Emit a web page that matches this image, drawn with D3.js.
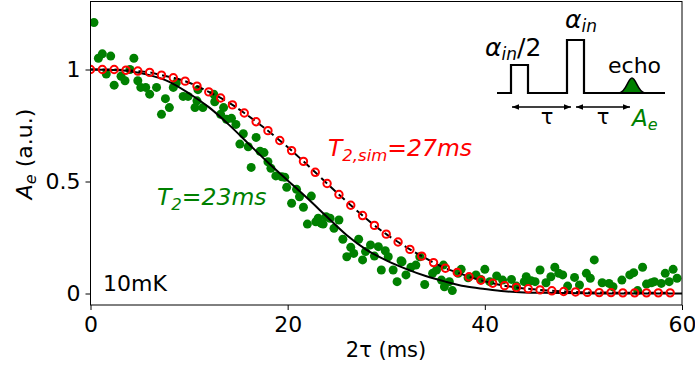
<!DOCTYPE html>
<html><head><meta charset="utf-8">
<script src="https://cdn.jsdelivr.net/npm/d3@7"></script>
<style>
body{margin:0;background:#fff}
svg{display:block}
text{font-family:"DejaVu Sans",sans-serif}
</style>
</head><body>
<svg id="c" width="695" height="374"></svg>
<script>
// ---------- data ----------
const xTicks = [0, 20, 40, 60];
const yTicks = [0, 0.5, 1];
const xDomain = [0, 60];
const yDomain = [-0.0513, 1.3036];

// measured echo amplitude (green dots)
const measTime = [0.35,0.8,1.2,1.6,2.05,2.4,3.1,3.5,4.0,4.4,4.8,5.1,5.6,6.0,6.7,7.2,7.6,8.0,8.4,8.7,9.4,9.9,10.6,10.8,10.9,11.4,
  12.5,12.6,13.2,13.5,13.8,14.3,14.75,15.15,15.5,16.0,16.3,16.8,17.2,17.6,18.0,18.3,18.8,19.4,19.7,19.9,20.4,20.9,21.2,21.6,
  22.0,22.4,22.85,23.1,23.4,23.6,23.9,24.3,24.7,25.2,25.6,26.0,26.4,26.7,27.2,27.6,27.9,28.4,28.8,29.2,29.5,29.9,30.2,30.7,
  31.1,31.5,31.6,32.0,32.5,33.0,33.4,33.9,34.7,35.1,35.6,35.8,35.9,36.4,36.7,37.3,37.6,38.3,39.1,39.6,40.0,40.5,41.2,41.8,42.7,
  43.2,44.0,44.2,44.7,45.1,45.6,46.2,46.7,47.1,47.5,47.9,48.4,49.1,49.6,50.3,50.7,51.1,51.9,52.6,53.0,53.9,54.7,55.1,55.5,
  56.0,56.4,56.9,57.2,57.9,58.3,58.7,59.1,59.5];
const measAmp = [1.21,1.05,1.07,0.98,1.06,0.93,0.97,0.95,1.0,1.05,0.95,0.92,0.92,0.89,0.92,0.80,0.87,0.83,0.92,0.94,0.88,0.88,0.83,0.86,0.91,0.83,
  0.89,0.856,0.80,0.83,0.778,0.782,0.755,0.667,0.713,0.655,0.563,0.697,0.635,0.629,0.588,0.559,0.525,0.521,0.519,0.474,0.403,0.465,0.432,0.385,
  0.31,0.435,0.32,0.336,0.313,0.31,0.343,0.336,0.291,0.328,0.242,0.164,0.206,0.179,0.242,0.15,0.187,0.217,0.167,0.209,0.105,0.191,0.164,0.105,
  0.053,0.146,0.142,0.083,0.117,0.127,0.164,0.04,0.09,0.105,0.06,0.127,0.03,0.053,0.013,0.09,0.108,0.07,0.083,0.063,0.108,0.053,0.078,0.06,0.063,
  0.033,0.053,0.075,0.057,0.053,0.105,0.048,0.075,0.117,0.09,0.083,0.033,0.072,0.038,0.09,0.068,0.15,0.048,0.045,0.03,0.06,0.083,0.093,0.013,
  0.117,0.042,0.048,0.053,0.045,0.09,0.053,0.108,0.068];

// simulated echo amplitude (red open circles)
const simTime = [0,1.2,2.4,3.6,4.8,6.0,7.2,8.4,9.6,10.8,12.0,13.2,14.4,15.6,16.8,18.0,19.2,20.4,21.6,22.8,
  24.0,25.2,26.4,27.6,28.8,30.0,31.2,32.4,33.6,34.8,36.0,37.2,38.4,39.6,40.8,42.0,43.2,44.4,45.6,46.8,
  48.0,49.2,50.4,51.6,52.8,54.0,55.2,56.4,57.6,58.8];
const simAmp = [1.0,1.0,1.0,0.997,0.993,0.987,0.975,0.963,0.948,0.926,0.900,0.873,0.842,0.806,0.767,0.727,0.683,0.638,0.590,0.541,
  0.491,0.442,0.394,0.348,0.304,0.265,0.230,0.197,0.167,0.138,0.113,0.094,0.075,0.059,0.046,0.035,0.027,0.021,0.016,0.012,
  0.009,0.007,0.005,0.004,0.004,0.003,0.003,0.003,0.003,0.003];

// fit to measured data (black solid line, T2 = 23 ms)
const fitTime = [0,2,4,6,8,10,12,14,16,18,20,22,24,26,28,30,32,34,36,38,40,42,44,46,48,50,55,60];
const fitAmp  = [1.0,0.998,0.992,0.975,0.945,0.893,0.832,0.755,0.67,0.585,0.505,0.425,0.342,0.26,0.195,0.148,0.11,0.078,0.053,0.032,0.02,0.01,0.005,0.003,0.002,0.001,0,0];

// ---------- layout ----------
const svg = d3.select("#c");
const x = d3.scaleLinear().domain(xDomain).range([90.5, 682]);
const y = d3.scaleLinear().domain(yDomain).range([305, 1.5]);

const defs = svg.append("defs");
defs.append("clipPath").attr("id","clip")
  .append("rect").attr("x",90.5).attr("y",1.5).attr("width",591.5).attr("height",303.5);

const plot = svg.append("g").attr("clip-path","url(#clip)");

// green measured points
plot.append("g").selectAll("circle").data(measTime).join("circle")
  .attr("cx", d => x(d)).attr("cy", (d,i) => y(measAmp[i])).attr("r", 4.5)
  .attr("fill", "#008000");

// black solid fit
const fitPts = fitTime.map((t,i) => [t, fitAmp[i]]);
plot.append("path").datum(fitPts)
  .attr("d", d3.line().x(d => x(d[0])).y(d => y(d[1])).curve(d3.curveMonotoneX))
  .attr("fill","none").attr("stroke","#000").attr("stroke-width",2);

// black dashed fit of simulation
const simPts = simTime.map((t,i) => [t, simAmp[i]]);
plot.append("path").datum(simPts)
  .attr("d", d3.line().x(d => x(d[0])).y(d => y(d[1])).curve(d3.curveMonotoneX))
  .attr("fill","none").attr("stroke","#000").attr("stroke-width",2).attr("stroke-dasharray","8,4");

// red open circles
plot.append("g").selectAll("circle").data(simPts).join("circle")
  .attr("cx", d => x(d[0])).attr("cy", d => y(d[1])).attr("r", 3.7)
  .attr("fill", "none").attr("stroke", "#ff0000").attr("stroke-width", 2);

// frame
svg.append("rect").attr("x",90.5).attr("y",1.5).attr("width",591.5).attr("height",303.5)
  .attr("fill","none").attr("stroke","#000").attr("stroke-width",1);

// axes
const xa = svg.append("g").attr("transform","translate(0,305)")
  .call(d3.axisBottom(x).tickValues(xTicks).tickSize(5).tickPadding(6).tickFormat(d => String(d)));
const ya = svg.append("g").attr("transform","translate(90.5,0)")
  .call(d3.axisLeft(y).tickValues(yTicks).tickSize(5).tickPadding(5).tickFormat(d => String(d)));
[xa, ya].forEach(a => {
  a.select(".domain").remove();
  a.selectAll("line").attr("stroke","#000").attr("stroke-width",1);
  a.selectAll("text").attr("font-size","22px").attr("fill","#000").attr("font-family","DejaVu Sans");
});

// axis labels
svg.append("text").attr("x",386).attr("y",357).attr("text-anchor","middle")
  .attr("font-size","21px").text("2τ (ms)");
const yl = svg.append("text").attr("transform","translate(32,154) rotate(-90)")
  .attr("text-anchor","middle").attr("font-size","22px");
yl.append("tspan").attr("font-style","italic").text("A");
yl.append("tspan").attr("font-style","italic").attr("font-size","16px").attr("dy",4).text("e");
yl.append("tspan").attr("dy",-4).text(" (a.u.)");

// annotations
svg.append("text").attr("x",103).attr("y",291).attr("font-size","22px").text("10mK");

const t1 = svg.append("text").attr("x",157).attr("y",205).attr("font-size","23.5px")
  .attr("font-style","italic").attr("fill","#008000");
t1.append("tspan").text("T");
t1.append("tspan").attr("font-size","16.5px").attr("dy",5).text("2");
t1.append("tspan").attr("dy",-5).text("=23ms");

const t2 = svg.append("text").attr("x",328).attr("y",156).attr("font-size","23.5px")
  .attr("font-style","italic").attr("fill","#ff0000");
t2.append("tspan").text("T");
t2.append("tspan").attr("font-size","16.5px").attr("dy",5).text("2,sim");
t2.append("tspan").attr("dy",-5).text("=27ms");

// ---------- inset pulse-sequence schematic ----------
const ins = svg.append("g");
const base = 93;
const seq = d3.path();
seq.moveTo(497, base); seq.lineTo(511, base); seq.lineTo(511, 65); seq.lineTo(528, 65); seq.lineTo(528, base);
seq.lineTo(567, base); seq.lineTo(567, 40); seq.lineTo(584, 40); seq.lineTo(584, base); seq.lineTo(620, base);
ins.append("path").attr("d", seq.toString()).attr("fill","none").attr("stroke","#000").attr("stroke-width",2.2)
  .attr("stroke-linejoin","miter");
const echo = d3.path();
echo.moveTo(619, base);
echo.bezierCurveTo(626, base, 628, 78, 632, 78);
echo.bezierCurveTo(636, 78, 638, base, 645, base);
ins.append("path").attr("d", echo.toString() + "Z").attr("fill","#008000").attr("stroke","none");
ins.append("path").attr("d", echo.toString()).attr("fill","none").attr("stroke","#000").attr("stroke-width",1.5);
ins.append("line").attr("x1",619).attr("x2",665).attr("y1",base).attr("y2",base).attr("stroke","#000").attr("stroke-width",2.2);

defs.append("marker").attr("id","ah").attr("viewBox","0 0 10 10").attr("refX",10).attr("refY",5)
  .attr("markerWidth",7).attr("markerHeight",7).attr("orient","auto-start-reverse").attr("markerUnits","userSpaceOnUse")
  .append("path").attr("d","M0,1 L10,5 L0,9 Z").attr("fill","#000");
[[512,571],[576,630]].forEach(([a,b]) => {
  ins.append("line").attr("x1",a).attr("x2",b).attr("y1",107).attr("y2",107)
    .attr("stroke","#000").attr("stroke-width",1.5)
    .attr("marker-start","url(#ah)").attr("marker-end","url(#ah)");
});
ins.append("text").attr("x",547).attr("y",124).attr("text-anchor","middle").attr("font-size","21px").attr("font-family","DejaVu Serif").text("τ");
ins.append("text").attr("x",603).attr("y",124).attr("text-anchor","middle").attr("font-size","21px").attr("font-family","DejaVu Serif").text("τ");
const ae = ins.append("text").attr("x",632).attr("y",126).attr("font-size","23px").attr("fill","#008000");
ae.append("tspan").attr("font-style","italic").text("A");
ae.append("tspan").attr("font-style","italic").attr("font-size","16px").attr("dy",4).text("e");
ins.append("text").attr("x",608).attr("y",73).attr("font-size","22px").text("echo");

const a1 = ins.append("text").attr("x",485).attr("y",56).attr("font-size","25px").attr("font-family","DejaVu Serif");
a1.append("tspan").attr("font-style","italic").text("α");
a1.append("tspan").attr("font-style","italic").attr("font-size","17px").attr("dy",4).text("in");
a1.append("tspan").attr("dy",-4).text("/2");
const a2 = ins.append("text").attr("x",565).attr("y",28).attr("font-size","25px").attr("font-family","DejaVu Serif");
a2.append("tspan").attr("font-style","italic").text("α");
a2.append("tspan").attr("font-style","italic").attr("font-size","17px").attr("dy",4).text("in");
</script>
</body></html>
